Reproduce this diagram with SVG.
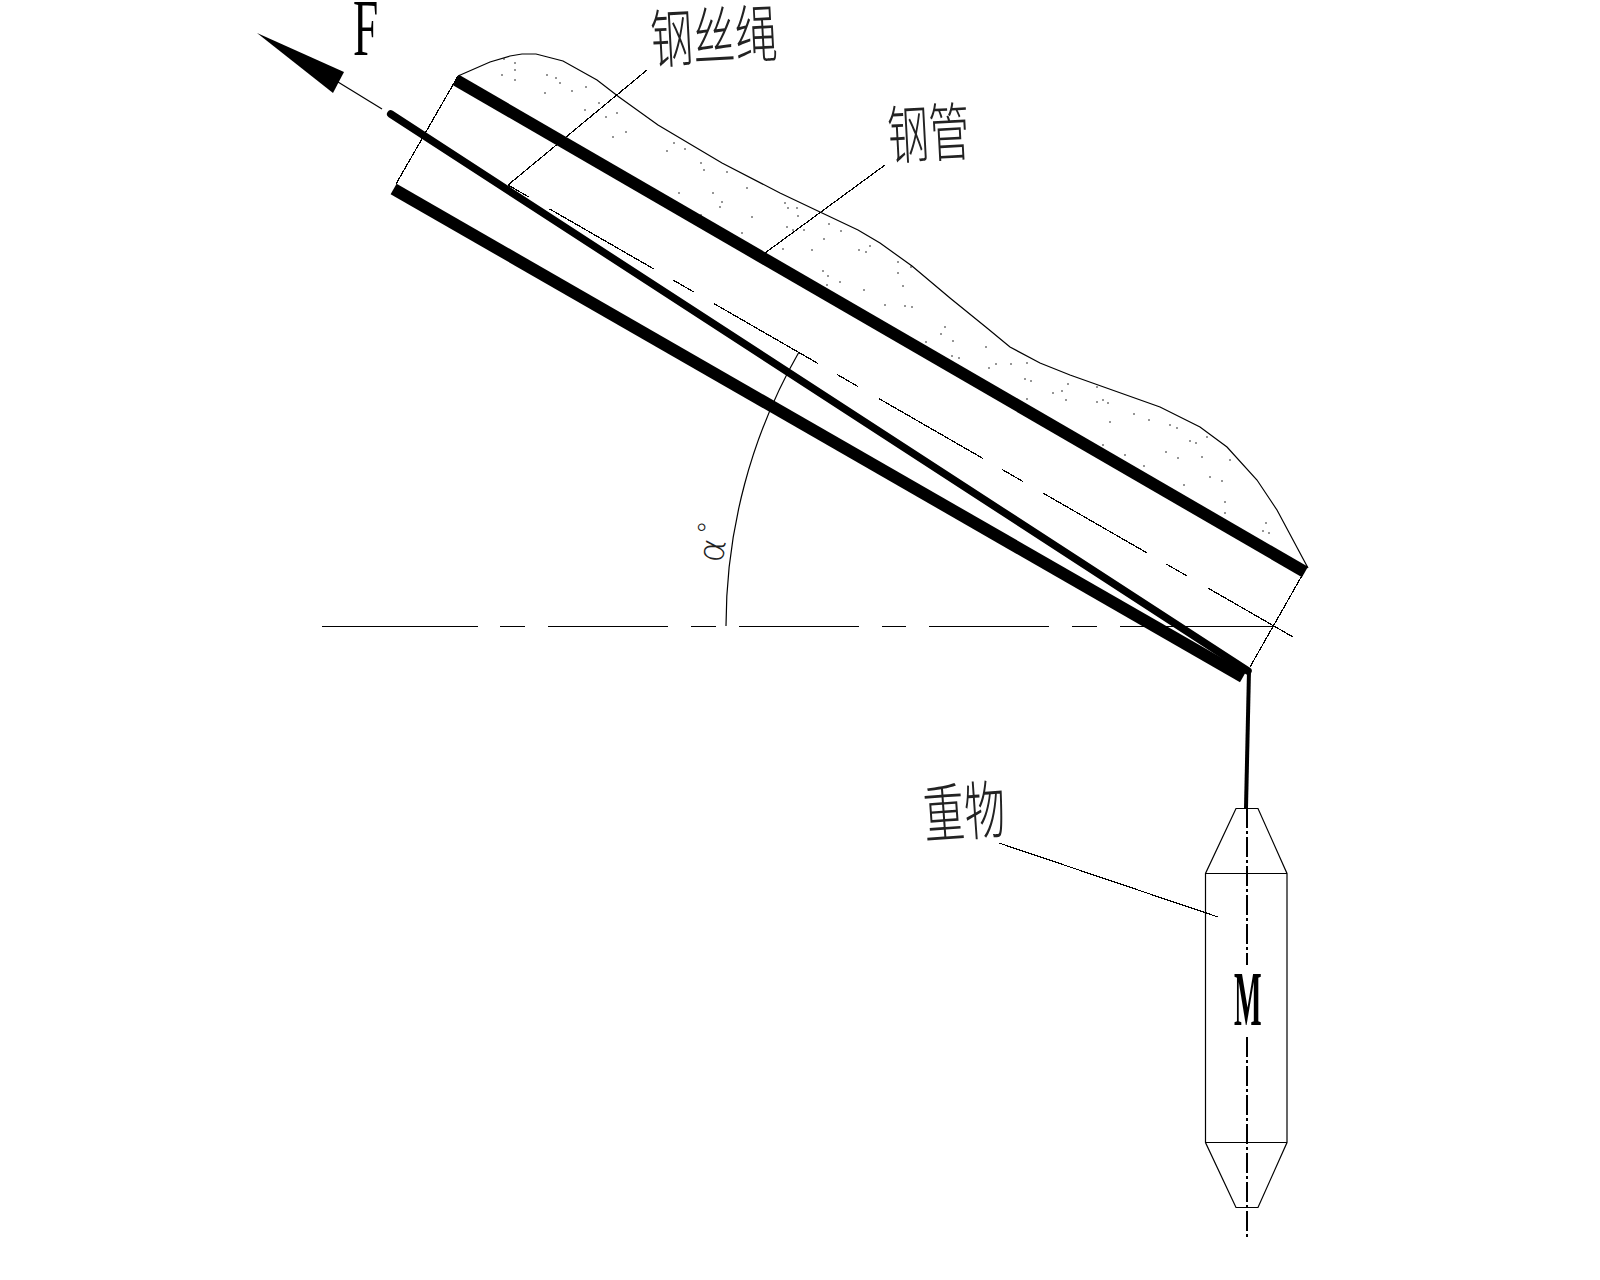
<svg xmlns="http://www.w3.org/2000/svg" width="1600" height="1280" viewBox="0 0 1600 1280">
<style>
.thin{fill:none;stroke:#000;stroke-width:1.2;shape-rendering:crispEdges}
.pipe{fill:none;stroke:#000;stroke-width:12}
.cn{font-family:"Noto Sans CJK SC","Liberation Sans",sans-serif;font-weight:200;fill:#222}
.la{font-family:"Liberation Serif",serif;fill:#000}
.dots circle{fill:#111;r:.8px}
</style>
<rect width="1600" height="1280" fill="#fff"/>
<g id="ground">
<polyline class="thin" style="shape-rendering:auto" points="458,76 490,62 510,56 522,54 536,54 563,61 597,80 619,97 658,125 722,163 780,193 820,212 858,230 880,243 912,266 950,298 987,328 1010,347 1040,363 1070,375 1160,407 1200,427 1227,447 1257,480 1277,510 1308,568"/>
<g class="dots">
<circle cx="504" cy="59"/><circle cx="515" cy="63"/><circle cx="515" cy="70"/><circle cx="502" cy="75"/><circle cx="515" cy="80"/><circle cx="547" cy="75"/><circle cx="556" cy="78"/><circle cx="560" cy="83"/><circle cx="572" cy="91"/><circle cx="545" cy="93"/><circle cx="586" cy="87"/><circle cx="585" cy="110"/><circle cx="599" cy="103"/><circle cx="606" cy="117"/><circle cx="617" cy="113"/><circle cx="613" cy="137"/><circle cx="626" cy="132"/><circle cx="674" cy="143"/><circle cx="667" cy="151"/><circle cx="685" cy="149"/><circle cx="701" cy="163"/><circle cx="704" cy="170"/><circle cx="727" cy="172"/><circle cx="679" cy="193"/><circle cx="713" cy="193"/><circle cx="722" cy="202"/><circle cx="720" cy="207"/><circle cx="747" cy="188"/><circle cx="701" cy="215"/><circle cx="752" cy="217"/><circle cx="742" cy="233"/>
<circle cx="785" cy="203"/><circle cx="788" cy="208"/><circle cx="797" cy="208"/><circle cx="798" cy="216"/><circle cx="787" cy="227"/><circle cx="793" cy="230"/><circle cx="804" cy="230"/><circle cx="829" cy="224"/><circle cx="841" cy="231"/><circle cx="824" cy="239"/><circle cx="783" cy="249"/><circle cx="812" cy="250"/><circle cx="859" cy="250"/><circle cx="866" cy="252"/><circle cx="870" cy="246"/><circle cx="898" cy="262"/><circle cx="911" cy="267"/><circle cx="823" cy="271"/><circle cx="828" cy="276"/><circle cx="898" cy="273"/><circle cx="840" cy="282"/><circle cx="827" cy="285"/><circle cx="903" cy="286"/><circle cx="864" cy="290"/><circle cx="885" cy="305"/><circle cx="905" cy="306"/><circle cx="912" cy="307"/><circle cx="945" cy="327"/><circle cx="941" cy="334"/><circle cx="953" cy="341"/><circle cx="926" cy="342"/><circle cx="986" cy="347"/><circle cx="952" cy="356"/><circle cx="959" cy="358"/><circle cx="996" cy="364"/><circle cx="1011" cy="364"/><circle cx="989" cy="368"/>
<circle cx="1027" cy="363"/><circle cx="1025" cy="379"/><circle cx="1031" cy="381"/><circle cx="1068" cy="384"/><circle cx="1062" cy="391"/><circle cx="1053" cy="393"/><circle cx="1097" cy="387"/><circle cx="1027" cy="399"/><circle cx="1066" cy="400"/><circle cx="1097" cy="402"/><circle cx="1103" cy="400"/><circle cx="1108" cy="403"/><circle cx="1134" cy="414"/><circle cx="1149" cy="420"/><circle cx="1110" cy="422"/><circle cx="1170" cy="425"/><circle cx="1177" cy="428"/><circle cx="1207" cy="437"/><circle cx="1190" cy="441"/><circle cx="1196" cy="443"/><circle cx="1103" cy="445"/><circle cx="1166" cy="452"/><circle cx="1125" cy="455"/><circle cx="1178" cy="458"/><circle cx="1202" cy="457"/><circle cx="1230" cy="460"/><circle cx="1144" cy="466"/><circle cx="1210" cy="477"/><circle cx="1222" cy="481"/><circle cx="1184" cy="485"/><circle cx="1225" cy="502"/><circle cx="1225" cy="513"/><circle cx="1266" cy="523"/><circle cx="1263" cy="531"/><circle cx="1269" cy="533"/>
</g>
</g>
<g id="pipe">
<line class="pipe" x1="456" y1="80" x2="1305" y2="572"/>
<line class="pipe" x1="393.6" y1="189" x2="1243" y2="677"/>
<line class="thin" x1="458" y1="76" x2="396" y2="184"/>
<line class="thin" x1="1304" y1="572" x2="1250" y2="667"/>
<line class="thin" stroke-dasharray="24 24 120 22" x1="508" y1="185" x2="1293" y2="637"/>
</g>
<g id="rope">
<line x1="390.7" y1="114" x2="1248" y2="671" stroke="#000" stroke-width="7.500" stroke-linecap="round"/>
<line x1="1249" y1="671" x2="1246" y2="808" stroke="#000" stroke-width="4"/>
</g>
<g id="force">
<polygon points="257,33 344,72 333,93" fill="#000"/>
<line x1="338" y1="82" x2="382" y2="109" stroke="#000" stroke-width="1.2"/>
<text class="la" transform="translate(353 55) scale(.56 1)" font-size="81">F</text>
</g>
<g id="angle">
<path class="thin" d="M322 626.5H478M500 626.5H525M548 626.5H668M691 626.5H716M739 626.5H859M882 626.5H906M929 626.5H1049M1072 626.5H1097M1120 626.5H1275"/>
<path class="thin" style="shape-rendering:auto" d="M726 626A551 551 0 0 1 799 352"/>
<text transform="translate(722 564) rotate(-80)" font-family="DejaVu Sans,sans-serif" font-weight="200" font-size="36" fill="#222">α<tspan dx="2" dy="-10" font-size="28">°</tspan></text>
</g>
<g id="weight">
<path class="thin" style="shape-rendering:auto" d="M1236 808.5H1258L1287 873.5V1142.5L1258 1207.5H1236L1205.500 1142.500V873.500ZM1205.500 873.500H1287M1205.500 1142.500H1287"/>
<line class="thin" x1="1247" y1="808" x2="1247" y2="965" stroke-dasharray="20 3 3 3"/>
<line class="thin" x1="1247" y1="1037" x2="1247" y2="1237" stroke-dasharray="20 3 3 3"/>
<text class="la" transform="translate(1234 1025) scale(.37 1)" font-size="79" font-weight="bold">M</text>
</g>
<g id="labels">
<text class="cn" transform="translate(652 63) rotate(-3) scale(.74 1.12)" font-size="57">钢丝绳</text>
<line class="thin" x1="647" y1="70" x2="508" y2="185"/>
<text class="cn" transform="translate(889 159) rotate(-3) scale(.72 1.12)" font-size="57">钢管</text>
<line class="thin" x1="885" y1="165" x2="765" y2="253"/>
<text class="cn" transform="translate(925 838) rotate(-4) scale(.72 1.12)" font-size="57">重物</text>
<line class="thin" x1="999" y1="843" x2="1218" y2="917"/>
</g>
</svg>
